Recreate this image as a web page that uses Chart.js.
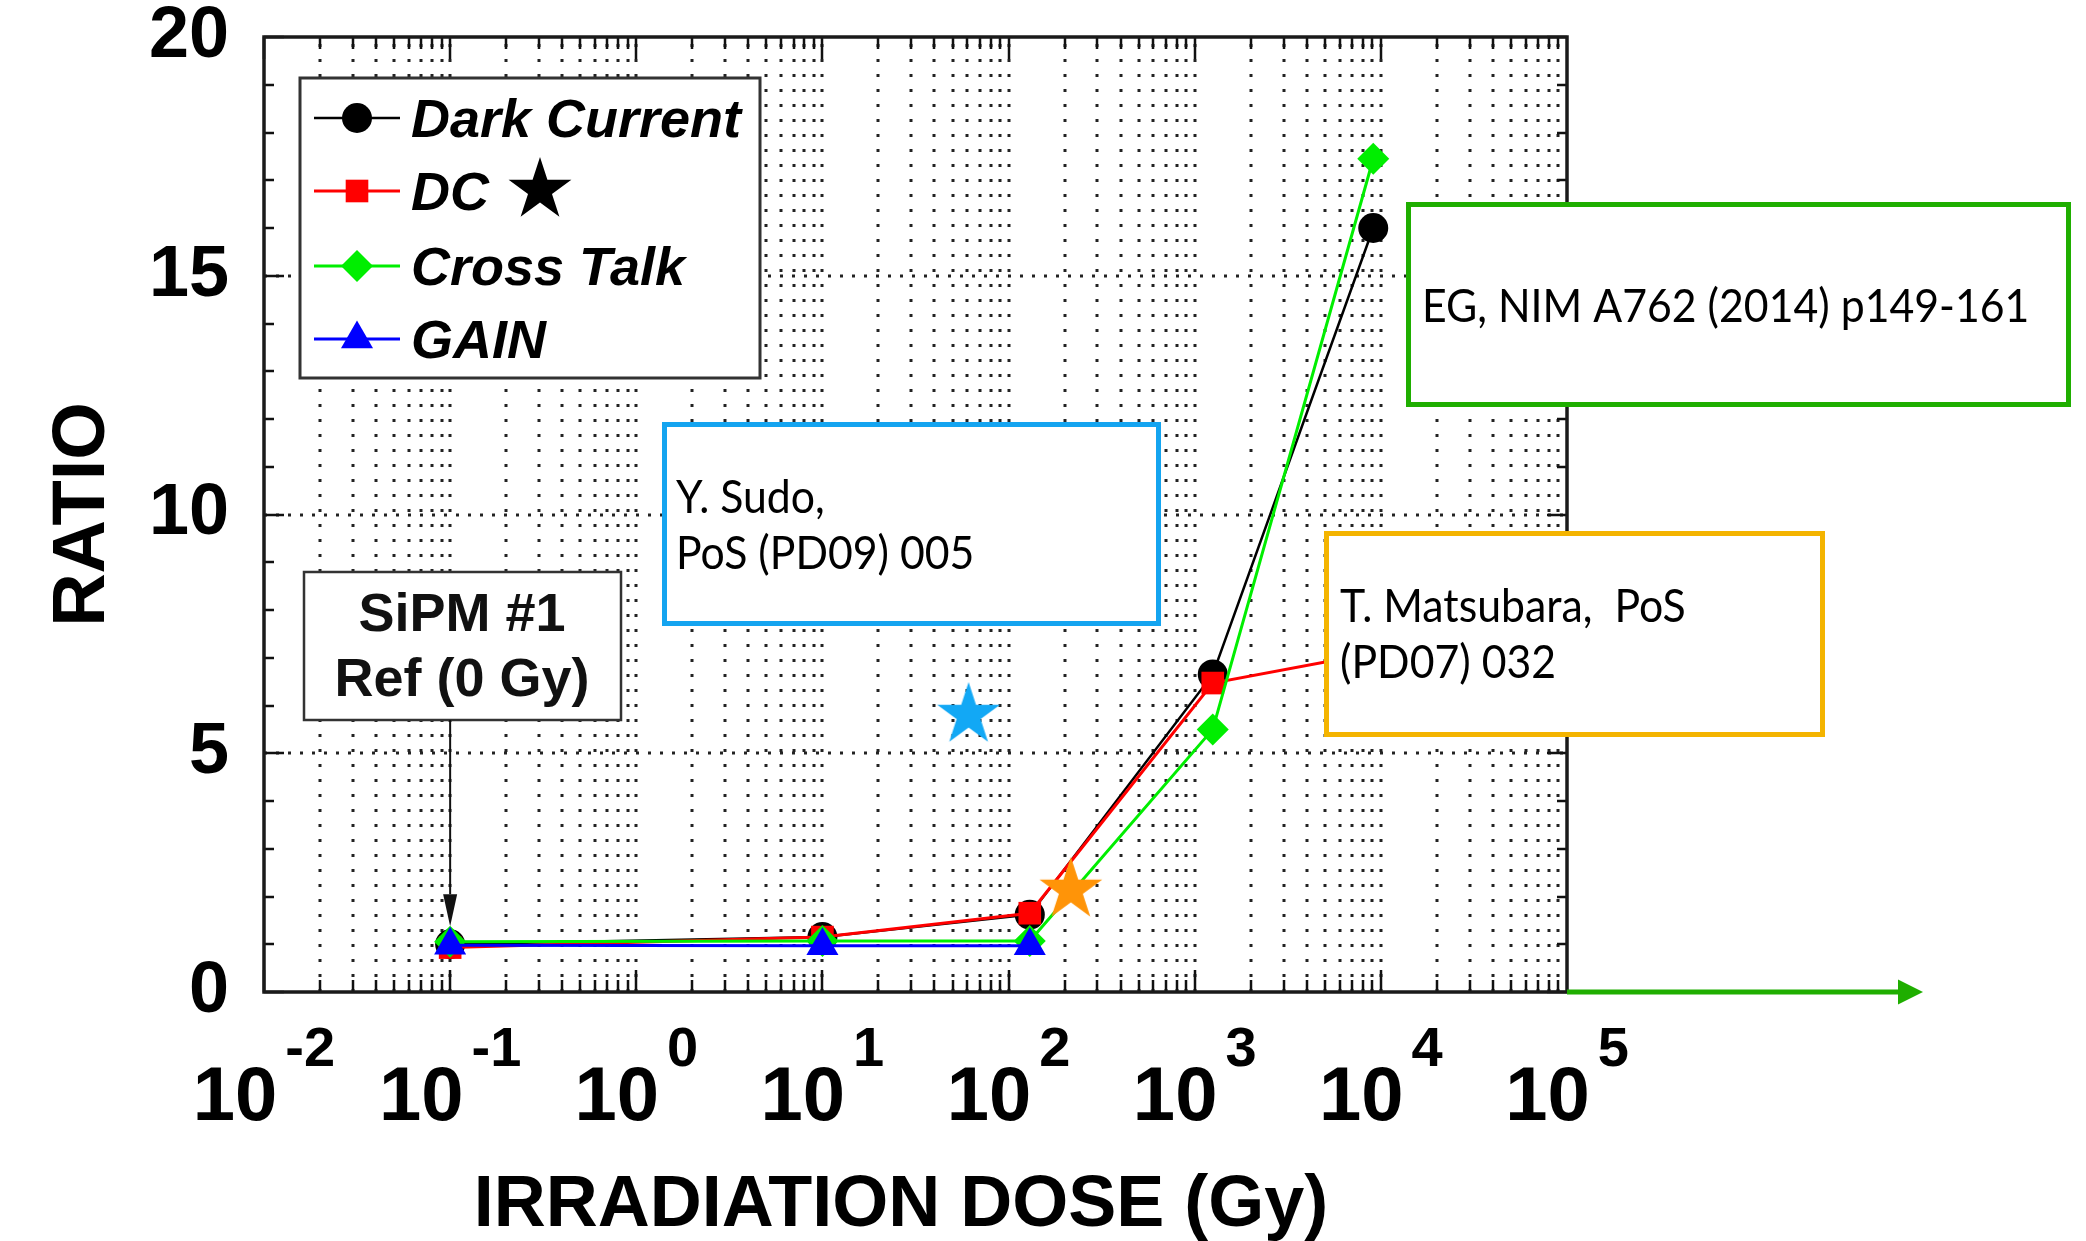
<!DOCTYPE html>
<html>
<head>
<meta charset="utf-8">
<title>SiPM ratio vs irradiation dose</title>
<script src="https://cdn.jsdelivr.net/npm/chart.js@4.4.1/dist/chart.umd.min.js"></script>
<style>
  html, body { margin: 0; padding: 0; background: #fff; }
</style>
</head>
<body>
<canvas id="ratioChart" width="2086" height="1241"></canvas>
<script>
// doses (Gy) where the SiPM samples were measured
const doses = [0.1, 10, 130, 1250, 9100];
const darkCurrent = [1.0, 1.15, 1.62, 6.65, 16.0];
const dcRatio = [0.93, 1.15, 1.65, 6.47, 7.1];
const crossTalk = [1.05, 1.07, 1.07, 5.5, 17.45];
const gainDoses = [0.1, 10, 130];
const gainRatio = [0.98, 0.97, 0.97];
// single results from other papers
const sudoPoint = [{x: 61, y: 5.8}];
const matsubaraPoint = [{x: 216, y: 2.14}];

const yTicks = [0, 5, 10, 15, 20];
const xDecades = [-2, -1, 0, 1, 2, 3, 4, 5];

const axisFont = "'Liberation Sans', Arial, sans-serif";
const noteFont = "Lato, 'Open Sans', sans-serif";

const pts = (xs, ys) => xs.map((x, i) => ({x: x, y: ys[i]}));

function starPath(g, cx, cy, R) {
    const r = R * 0.382;
    g.beginPath();
    for (let i = 0; i < 10; i++) {
        const a = -Math.PI / 2 + i * Math.PI / 5;
        const rad = i % 2 ? r : R;
        g.lineTo(cx + rad * Math.cos(a), cy + rad * Math.sin(a));
    }
    g.closePath();
}

function makeStar(R, color) {
    const c = document.createElement('canvas');
    const s = Math.ceil(2 * R + 2);
    c.width = s; c.height = s;
    const g = c.getContext('2d');
    g.fillStyle = color;
    starPath(g, s / 2, s / 2, R);
    g.fill();
    return c;
}

function arrow(ctx, x1, y1, x2, y2, head, half, color, width) {
    const ang = Math.atan2(y2 - y1, x2 - x1);
    const bx = x2 - head * Math.cos(ang), by = y2 - head * Math.sin(ang);
    ctx.strokeStyle = color; ctx.fillStyle = color; ctx.lineWidth = width;
    ctx.beginPath(); ctx.moveTo(x1, y1); ctx.lineTo(bx, by); ctx.stroke();
    ctx.beginPath();
    ctx.moveTo(x2, y2);
    ctx.lineTo(bx + half * Math.sin(ang), by - half * Math.cos(ang));
    ctx.lineTo(bx - half * Math.sin(ang), by + half * Math.cos(ang));
    ctx.closePath(); ctx.fill();
}

function noteBox(ctx, x0, y0, x1, y1, color, lines, tx, baselines) {
    ctx.fillStyle = '#fff';
    ctx.fillRect(x0, y0, x1 - x0, y1 - y0);
    ctx.strokeStyle = color; ctx.lineWidth = 5;
    ctx.strokeRect(x0 + 2.5, y0 + 2.5, x1 - x0 - 5, y1 - y0 - 5);
    ctx.fillStyle = '#000';
    ctx.font = '46px ' + noteFont;
    ctx.textAlign = 'left'; ctx.textBaseline = 'alphabetic';
    lines.forEach((t, i) => {
        ctx.save();
        ctx.translate(tx, baselines[i]);
        ctx.scale(0.93, 1);
        ctx.fillText(t, 0, 0);
        ctx.restore();
    });
}

const rootFrame = {
    id: 'rootFrame',
    beforeDatasetsDraw(chart) {
        const {ctx, chartArea: a, scales: {x, y}} = chart;
        const first = xDecades[0], last = xDecades[xDecades.length - 1];
        ctx.save();
        // dotted grid
        ctx.strokeStyle = '#222';
        ctx.lineWidth = 3;
        ctx.setLineDash([3, 12]);
        for (let k = first; k < last; k++) {
            for (let m = 1; m < 10; m++) {
                if (k === first && m === 1) continue;
                const px = Math.round(x.getPixelForValue(m * Math.pow(10, k)));
                ctx.beginPath(); ctx.moveTo(px, a.bottom); ctx.lineTo(px, a.top); ctx.stroke();
            }
        }
        ctx.setLineDash([3, 9]);
        yTicks.slice(1, -1).forEach(v => {
            const py = Math.round(y.getPixelForValue(v));
            ctx.beginPath(); ctx.moveTo(a.left, py); ctx.lineTo(a.right, py); ctx.stroke();
        });
        ctx.setLineDash([]);
        // inward tick marks on all four sides
        ctx.strokeStyle = '#111';
        ctx.lineWidth = 2.5;
        for (let k = first; k < last; k++) {
            for (let m = 1; m < 10; m++) {
                const px = Math.round(x.getPixelForValue(m * Math.pow(10, k)));
                const len = m === 1 ? 22 : 12;
                ctx.beginPath();
                ctx.moveTo(px, a.bottom); ctx.lineTo(px, a.bottom - len);
                ctx.moveTo(px, a.top); ctx.lineTo(px, a.top + len);
                ctx.stroke();
            }
        }
        for (let v = yTicks[0]; v <= yTicks[yTicks.length - 1]; v++) {
            const py = Math.round(y.getPixelForValue(v));
            const len = v % 5 === 0 ? 20 : 10;
            ctx.beginPath();
            ctx.moveTo(a.left, py); ctx.lineTo(a.left + len, py);
            ctx.moveTo(a.right, py); ctx.lineTo(a.right - len, py);
            ctx.stroke();
        }
        ctx.lineWidth = 3.5;
        ctx.strokeStyle = '#1a1a1a';
        ctx.strokeRect(a.left, a.top, a.right - a.left, a.bottom - a.top);
        ctx.restore();
    },
    afterDatasetsDraw(chart) {
        const {ctx, scales: {x, y}} = chart;
        ctx.save();

        // legend box
        ctx.fillStyle = '#fff';
        ctx.fillRect(300, 78, 460, 300);
        ctx.strokeStyle = '#333'; ctx.lineWidth = 3;
        ctx.strokeRect(300, 78, 460, 300);
        const rows = [118, 191, 266, 339];
        chart.data.datasets.slice(0, 4).forEach((ds, i) => {
            const yc = rows[i];
            ctx.strokeStyle = ds.borderColor; ctx.lineWidth = ds.borderWidth;
            ctx.beginPath(); ctx.moveTo(314, yc); ctx.lineTo(400, yc); ctx.stroke();
            ctx.fillStyle = ds.backgroundColor;
            Chart.helpers.drawPoint(ctx, {pointStyle: ds.pointStyle, radius: ds.pointRadius, rotation: 0, borderWidth: 0}, 357, yc);
            ctx.fillStyle = '#000';
            ctx.font = 'italic bold 54px ' + axisFont;
            ctx.textAlign = 'left'; ctx.textBaseline = 'alphabetic';
            ctx.fillText(ds.label, 411, yc + 19);
        });
        ctx.fillStyle = '#000';
        starPath(ctx, 540, 190, 33);
        ctx.fill();

        // reference sample note with arrow down to the first dose
        ctx.fillStyle = '#fff';
        ctx.fillRect(304, 572, 317, 148);
        ctx.strokeStyle = '#333'; ctx.lineWidth = 2.5;
        ctx.strokeRect(304, 572, 317, 148);
        ctx.fillStyle = '#111';
        ctx.font = 'bold 54px ' + axisFont;
        ctx.textAlign = 'center';
        ctx.fillText('SiPM #1', 462, 631);
        ctx.fillText('Ref (0 Gy)', 462, 696);
        const ax = x.getPixelForValue(doses[0]);
        arrow(ctx, ax, 720, ax, y.getPixelForValue(gainRatio[0]) - 19, 32, 7, '#111', 2);

        // citations
        noteBox(ctx, 662, 422, 1161, 626, '#14a4f0', ['Y. Sudo,', 'PoS (PD09) 005'], 676, [513, 569]);
        noteBox(ctx, 1324, 531, 1825, 737, '#f4b400', ['T. Matsubara,  PoS', '(PD07) 032'], 1340, [622, 678]);
        noteBox(ctx, 1406, 202, 2071, 407, '#1fae00', ['EG, NIM A762 (2014) p149-161'], 1422, [322]);

        // dose axis continues to the right
        arrow(ctx, chart.chartArea.right, chart.chartArea.bottom, 1923, chart.chartArea.bottom, 25, 12.5, '#1fae00', 5);
        ctx.restore();
    },
    afterDraw(chart) {
        const {ctx, chartArea: a, scales: {x}} = chart;
        ctx.save();
        ctx.fillStyle = '#000';
        ctx.textBaseline = 'alphabetic';
        ctx.textAlign = 'left';
        // 10^k labels on the dose axis
        xDecades.forEach(k => {
            const px = x.getPixelForValue(Math.pow(10, k));
            ctx.font = 'bold 76px ' + axisFont;
            const wBase = ctx.measureText('10').width;
            ctx.font = 'bold 56px ' + axisFont;
            const exp = String(k);
            const wExp = ctx.measureText(exp).width;
            const left = px - (wBase + 8 + wExp) / 2;
            ctx.font = 'bold 76px ' + axisFont;
            ctx.fillText('10', left, 1120);
            ctx.font = 'bold 56px ' + axisFont;
            ctx.fillText(exp, left + wBase + 8, 1066);
        });
        // axis titles
        ctx.font = 'bold 72px ' + axisFont;
        ctx.textAlign = 'center';
        ctx.fillText('IRRADIATION DOSE (Gy)', 901, 1226);
        ctx.translate(104, (a.top + a.bottom) / 2);
        ctx.rotate(-Math.PI / 2);
        ctx.font = 'bold 74px ' + axisFont;
        ctx.fillText('RATIO', 0, 0);
        ctx.restore();
    }
};

const sudoStar = makeStar(33, '#12a8f5');
const matsubaraStar = makeStar(33, '#ff9408');

const config = {
    type: 'line',
    data: {
        datasets: [
            {label: 'Dark Current', data: pts(doses, darkCurrent), borderColor: '#000000', backgroundColor: '#000000',
             borderWidth: 2.5, pointStyle: 'circle', pointRadius: 15, pointBorderWidth: 0, order: 4},
            {label: 'DC', data: pts(doses, dcRatio), borderColor: '#ff0000', backgroundColor: '#ff0000',
             borderWidth: 3, pointStyle: 'rect', pointRadius: 16, pointBorderWidth: 0, order: 3},
            {label: 'Cross Talk', data: pts(doses, crossTalk), borderColor: '#00ee00', backgroundColor: '#00ee00',
             borderWidth: 3, pointStyle: 'rectRot', pointRadius: 16, pointBorderWidth: 0, order: 2},
            {label: 'GAIN', data: pts(gainDoses, gainRatio), borderColor: '#0000ff', backgroundColor: '#0000ff',
             borderWidth: 3, pointStyle: 'triangle', pointRadius: 18.5, pointBorderWidth: 0, order: 1},
            {label: 'Y. Sudo', data: sudoPoint, showLine: false, pointStyle: sudoStar, order: 0},
            {label: 'T. Matsubara', data: matsubaraPoint, showLine: false, pointStyle: matsubaraStar, order: 0}
        ]
    },
    options: {
        responsive: false,
        devicePixelRatio: 1,
        animation: false,
        tension: 0,
        layout: {autoPadding: false, padding: {left: 0, top: 37, right: 519, bottom: 0}},
        plugins: {
            legend: {display: false},
            tooltip: {enabled: false}
        },
        scales: {
            x: {
                type: 'logarithmic',
                min: Math.pow(10, xDecades[0]),
                max: Math.pow(10, xDecades[xDecades.length - 1]),
                grid: {display: false, drawTicks: false},
                border: {display: false},
                ticks: {display: false},
                afterFit: s => { s.height = 249; }
            },
            y: {
                min: yTicks[0],
                max: yTicks[yTicks.length - 1],
                afterBuildTicks: s => { s.ticks = yTicks.map(v => ({value: v})); },
                grid: {display: false, drawTicks: false},
                border: {display: false},
                ticks: {
                    color: '#000',
                    padding: 35,
                    font: {family: axisFont, weight: 'bold', size: 72, lineHeight: 1}
                },
                // labels may overhang the plot frame at top and bottom
                afterFit: s => { s.width = 264; s.paddingTop = 0; s.paddingBottom = 0; }
            }
        }
    },
    plugins: [rootFrame]
};

new Chart(document.getElementById('ratioChart').getContext('2d'), config);
</script>
</body>
</html>
